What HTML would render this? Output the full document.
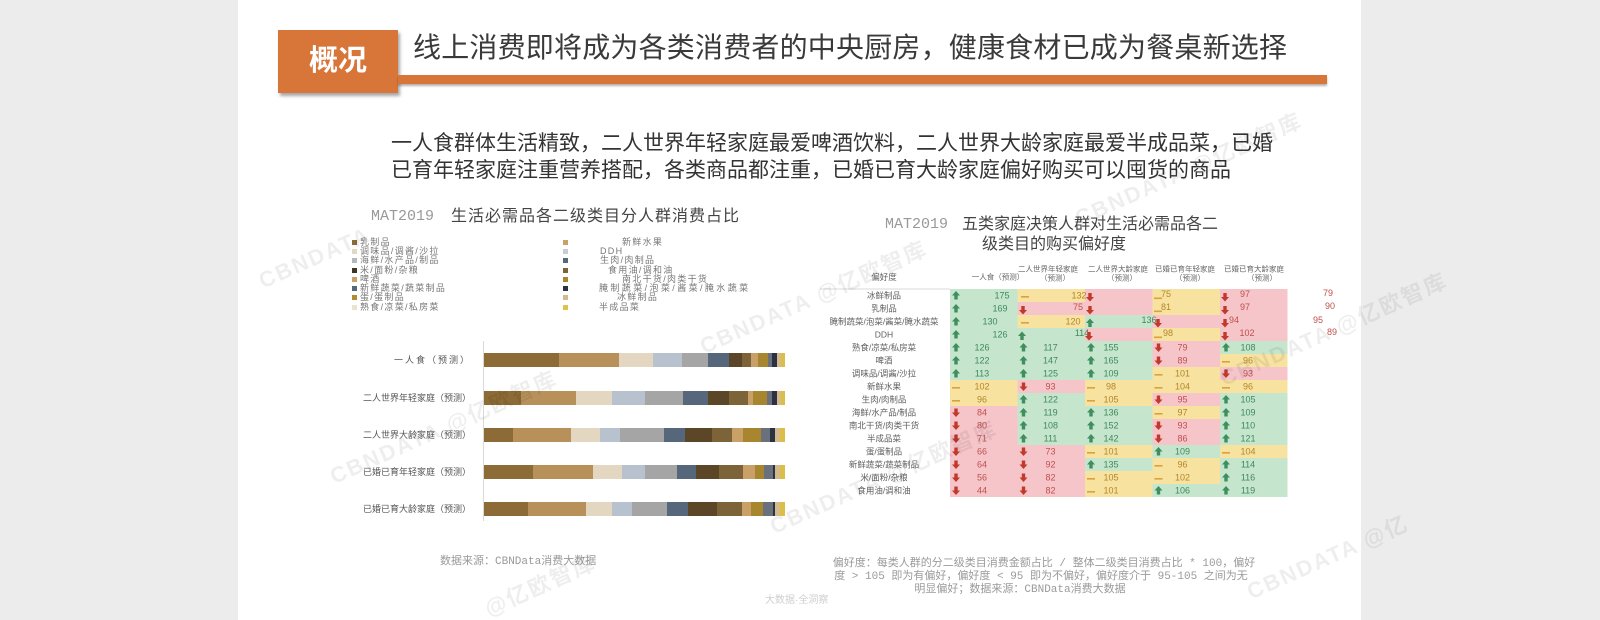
<!DOCTYPE html>
<html><head><meta charset="utf-8">
<style>
*{margin:0;padding:0;box-sizing:border-box}
html,body{width:1600px;height:620px;overflow:hidden;background:#ececec}
body{position:relative;font-family:"Liberation Sans","Noto Sans CJK SC",sans-serif;color:#333}
.slide{position:absolute;left:238px;top:0;width:1123px;height:620px;background:#fff}
.a{position:absolute;white-space:nowrap}
.mono{font-family:"Liberation Mono","Noto Sans CJK SC",monospace}
.bar{position:absolute;left:484px;width:301px;height:14px;display:flex}
.bar i{display:block;height:100%}
.c0{background:#8d6b36}.c1{background:#b8915a}.c2{background:#e4d7c2}.c3{background:#b8c1ce}
.c4{background:#a5a5a5}.c5{background:#56667b}.c6{background:#5b4627}.c7{background:#7d6338}
.c8{background:#c9a067}.c9{background:#a8852f}.c10{background:#6a707c}.c11{background:#2b3342}
.c12{background:#d4b98c}.c13{background:#dbbd4a}
.lg{position:absolute;font-size:9px;line-height:10px;height:10px;color:#777;white-space:nowrap;letter-spacing:1.3px}
.lg b{position:absolute;width:5px;height:5px;top:3px}
.bl{position:absolute;right:1129px;font-size:9px;line-height:14px;color:#555;white-space:nowrap}
.wmbox{position:absolute;left:0;top:0;width:1600px;height:620px;overflow:hidden}
.wm{position:absolute;white-space:nowrap;color:rgba(0,0,0,0.065);font-weight:bold;font-size:22px;transform:rotate(-24deg);transform-origin:center;letter-spacing:2px}
.fn{position:absolute;font-size:11px;line-height:13px;color:#9a9a9a;white-space:nowrap}
</style></head>
<body>
<div class="slide"></div>

<!-- header -->
<div class="a" style="left:278px;top:30px;width:120px;height:63px;background:#d8763a;box-shadow:2px 3px 3px rgba(0,0,0,0.35);color:#fff;font-weight:bold;font-size:29px;line-height:63px;text-align:center">概况</div>
<div class="a" style="left:413px;top:33px;font-size:28px;line-height:30px;color:#3a3a3a;letter-spacing:0.2px">线上消费即将成为各类消费者的中央厨房，健康食材已成为餐桌新选择</div>
<div class="a" style="left:398px;top:75px;width:929px;height:9px;background:#d8763a;box-shadow:0 2px 2px rgba(0,0,0,0.3)"></div>

<div class="a" style="left:391px;top:130px;font-size:21px;line-height:27px;color:#333">一人食群体生活精致，二人世界年轻家庭最爱啤酒饮料，二人世界大龄家庭最爱半成品菜，已婚<br>已育年轻家庭注重营养搭配，各类商品都注重，已婚已育大龄家庭偏好购买可以囤货的商品</div>

<!-- left chart title -->
<div class="a mono" style="left:371px;top:208px;font-size:15px;line-height:18px;color:#999">MAT2019</div>
<div class="a" style="left:451px;top:208px;font-size:16px;line-height:18px;color:#444;letter-spacing:1px">生活必需品各二级类目分人群消费占比</div>

<!-- legend left -->
<div class="lg" style="left:360px;top:237px"><b style="left:-8px;background:#8d6b36"></b>乳制品</div>
<div class="lg" style="left:360px;top:246px"><b style="left:-8px;background:#e4d7c2"></b>调味品/调酱/沙拉</div>
<div class="lg" style="left:360px;top:255px"><b style="left:-8px;background:#b3b7be"></b>海鲜/水产品/制品</div>
<div class="lg" style="left:360px;top:264.5px"><b style="left:-8px;background:#3f3524"></b>米/面粉/杂粮</div>
<div class="lg" style="left:360px;top:273.5px"><b style="left:-8px;background:#c9a067"></b>啤酒</div>
<div class="lg" style="left:360px;top:283px"><b style="left:-8px;background:#56667b"></b>新鲜蔬菜/蔬菜制品</div>
<div class="lg" style="left:360px;top:292px"><b style="left:-8px;background:#b08c33"></b>蛋/蛋制品</div>
<div class="lg" style="left:360px;top:301.5px"><b style="left:-8px;background:#ebe2d0"></b>熟食/凉菜/私房菜</div>
<!-- legend right -->
<div class="a" style="left:563px;top:240px;width:5px;height:5px;background:#c9a067"></div>
<div class="a" style="left:563px;top:249px;width:5px;height:5px;background:#c8ccd3"></div>
<div class="a" style="left:563px;top:258px;width:5px;height:5px;background:#56667b"></div>
<div class="a" style="left:563px;top:267.5px;width:5px;height:5px;background:#7d6338"></div>
<div class="a" style="left:563px;top:276.5px;width:5px;height:5px;background:#a8852f"></div>
<div class="a" style="left:563px;top:286px;width:5px;height:5px;background:#2b3342"></div>
<div class="a" style="left:563px;top:295px;width:5px;height:5px;background:#d4b98c"></div>
<div class="a" style="left:563px;top:304.5px;width:5px;height:5px;background:#dfc24a"></div>
<div class="lg" style="left:622px;top:237px">新鲜水果</div>
<div class="lg" style="left:600px;top:246px">DDH</div>
<div class="lg" style="left:600px;top:255px">生肉/肉制品</div>
<div class="lg" style="left:608px;top:264.5px">食用油/调和油</div>
<div class="lg" style="left:622px;top:273.5px">南北干货/肉类干货</div>
<div class="lg" style="left:599px;top:283px;letter-spacing:2.4px">腌制蔬菜/泡菜/酱菜/腌水蔬菜</div>
<div class="lg" style="left:617px;top:292px">冰鲜制品</div>
<div class="lg" style="left:599px;top:301.5px">半成品菜</div>

<!-- axis -->
<div class="a" style="left:483px;top:341px;width:1px;height:180px;background:#d9d9d9"></div>

<!-- bar labels -->
<div class="bl" style="top:353px;letter-spacing:2px">一人食（预测）</div>
<div class="bl" style="top:390.5px">二人世界年轻家庭（预测）</div>
<div class="bl" style="top:428px">二人世界大龄家庭（预测）</div>
<div class="bl" style="top:465px">已婚已育年轻家庭（预测）</div>
<div class="bl" style="top:502px">已婚已育大龄家庭（预测）</div>

<!-- bars -->
<div class="bar" style="top:353px"><i class="c0" style="flex:225 1 0"></i><i class="c1" style="flex:181 1 0"></i><i class="c2" style="flex:100 1 0"></i><i class="c3" style="flex:87 1 0"></i><i class="c4" style="flex:80 1 0"></i><i class="c5" style="flex:63 1 0"></i><i class="c6" style="flex:37 1 0"></i><i class="c7" style="flex:27 1 0"></i><i class="c8" style="flex:23 1 0"></i><i class="c9" style="flex:28 1 0"></i><i class="c10" style="flex:14 1 0"></i><i class="c11" style="flex:13 1 0"></i><i class="c12" style="flex:12 1 0"></i><i class="c13" style="flex:13 1 0"></i></div>
<div class="bar" style="top:390.5px"><i class="c0" style="flex:111 1 0"></i><i class="c1" style="flex:165 1 0"></i><i class="c2" style="flex:107 1 0"></i><i class="c3" style="flex:100 1 0"></i><i class="c4" style="flex:115 1 0"></i><i class="c5" style="flex:75 1 0"></i><i class="c6" style="flex:63 1 0"></i><i class="c7" style="flex:57 1 0"></i><i class="c8" style="flex:15 1 0"></i><i class="c9" style="flex:40 1 0"></i><i class="c10" style="flex:17 1 0"></i><i class="c11" style="flex:13 1 0"></i><i class="c12" style="flex:12 1 0"></i><i class="c13" style="flex:13 1 0"></i></div>
<div class="bar" style="top:428px"><i class="c0" style="flex:88 1 0"></i><i class="c1" style="flex:173 1 0"></i><i class="c2" style="flex:87 1 0"></i><i class="c3" style="flex:60 1 0"></i><i class="c4" style="flex:132 1 0"></i><i class="c5" style="flex:63 1 0"></i><i class="c6" style="flex:80 1 0"></i><i class="c7" style="flex:60 1 0"></i><i class="c8" style="flex:35 1 0"></i><i class="c9" style="flex:52 1 0"></i><i class="c10" style="flex:28 1 0"></i><i class="c11" style="flex:15 1 0"></i><i class="c12" style="flex:15 1 0"></i><i class="c13" style="flex:15 1 0"></i></div>
<div class="bar" style="top:465px"><i class="c0" style="flex:146 1 0"></i><i class="c1" style="flex:182 1 0"></i><i class="c2" style="flex:85 1 0"></i><i class="c3" style="flex:70 1 0"></i><i class="c4" style="flex:95 1 0"></i><i class="c5" style="flex:58 1 0"></i><i class="c6" style="flex:70 1 0"></i><i class="c7" style="flex:72 1 0"></i><i class="c8" style="flex:35 1 0"></i><i class="c9" style="flex:27 1 0"></i><i class="c10" style="flex:28 1 0"></i><i class="c11" style="flex:5 1 0"></i><i class="c12" style="flex:15 1 0"></i><i class="c13" style="flex:15 1 0"></i></div>
<div class="bar" style="top:502px"><i class="c0" style="flex:131 1 0"></i><i class="c1" style="flex:174 1 0"></i><i class="c2" style="flex:78 1 0"></i><i class="c3" style="flex:60 1 0"></i><i class="c4" style="flex:105 1 0"></i><i class="c5" style="flex:65 1 0"></i><i class="c6" style="flex:87 1 0"></i><i class="c7" style="flex:73 1 0"></i><i class="c8" style="flex:27 1 0"></i><i class="c9" style="flex:38 1 0"></i><i class="c10" style="flex:28 1 0"></i><i class="c11" style="flex:7 1 0"></i><i class="c12" style="flex:15 1 0"></i><i class="c13" style="flex:15 1 0"></i></div>

<!-- right chart title -->
<div class="a mono" style="left:885px;top:216px;font-size:15px;line-height:18px;color:#999">MAT2019</div>
<div class="a" style="left:962px;top:216px;font-size:16px;line-height:18px;color:#444">五类家庭决策人群对生活必需品各二</div>
<div class="a" style="left:982px;top:236px;font-size:16px;line-height:18px;color:#444">级类目的购买偏好度</div>

<!-- heatmap -->
<svg class="a" style="left:0;top:0" width="1600" height="620" viewBox="0 0 1600 620" xmlns="http://www.w3.org/2000/svg">
<style>
.g{fill:#c6e5cd}.y{fill:#f7e2a0}.p{fill:#f5c5ca}
text{font-family:"Liberation Sans","Noto Sans CJK SC",sans-serif}
.v{font-size:9px;text-anchor:middle;dominant-baseline:central}
.tg{fill:#3d8a5b}.tp{fill:#c0504d}.ty{fill:#b3862b}
.rl{font-size:8.5px;fill:#606060;text-anchor:middle;dominant-baseline:central}
.hd{font-size:7.5px;fill:#666;text-anchor:middle;dominant-baseline:central}
</style>
<defs>
<path id="u" d="M0,-4.5 L4,0 L1.7,0 L1.7,4 L-1.7,4 L-1.7,0 L-4,0Z" fill="#3e8e5e"/>
<path id="d" d="M0,4.5 L4,0 L1.7,0 L1.7,-4 L-1.7,-4 L-1.7,0 L-4,0Z" fill="#c0392b"/>
<rect id="s" x="-4" y="0.5" width="8" height="1.6" fill="#d9a23e"/>
</defs>
<line x1="820" y1="289" x2="950" y2="289" stroke="#d5d8de" stroke-width="1"/>
<text class="rl" x="884" y="277">偏好度</text>
<text class="hd" x="998" y="277">一人食（预测）</text>
<text class="hd" x="1048" y="269">二人世界年轻家庭</text><text class="hd" x="1055" y="278">（预测）</text>
<text class="hd" x="1118" y="269">二人世界大龄家庭</text><text class="hd" x="1122" y="278">（预测）</text>
<text class="hd" x="1185" y="269">已婚已育年轻家庭</text><text class="hd" x="1190" y="278">（预测）</text>
<text class="hd" x="1254" y="269">已婚已育大龄家庭</text><text class="hd" x="1262" y="278">（预测）</text>

<g shape-rendering="crispEdges">
<rect class="g" x="950" y="289" width="67.5" height="13"/><rect class="y" x="1017.5" y="289" width="67.5" height="13"/><rect class="p" x="1085" y="289" width="67.5" height="13"/><rect class="y" x="1152.5" y="289" width="67.5" height="13"/><rect class="p" x="1220" y="289" width="67.5" height="13"/>
<rect class="g" x="950" y="302" width="67.5" height="13"/><rect class="p" x="1017.5" y="302" width="67.5" height="13"/><rect class="p" x="1085" y="302" width="67.5" height="13"/><rect class="y" x="1152.5" y="302" width="67.5" height="13"/><rect class="p" x="1220" y="302" width="67.5" height="13"/>
<rect class="g" x="950" y="315" width="67.5" height="13"/><rect class="y" x="1017.5" y="315" width="67.5" height="13"/><rect class="g" x="1085" y="315" width="67.5" height="13"/><rect class="p" x="1152.5" y="315" width="67.5" height="13"/><rect class="p" x="1220" y="315" width="67.5" height="13"/>
<rect class="g" x="950" y="328" width="67.5" height="13"/><rect class="g" x="1017.5" y="328" width="67.5" height="13"/><rect class="p" x="1085" y="328" width="67.5" height="13"/><rect class="y" x="1152.5" y="328" width="67.5" height="13"/><rect class="p" x="1220" y="328" width="67.5" height="13"/>
<rect class="g" x="950" y="341" width="67.5" height="13"/><rect class="g" x="1017.5" y="341" width="67.5" height="13"/><rect class="g" x="1085" y="341" width="67.5" height="13"/><rect class="p" x="1152.5" y="341" width="67.5" height="13"/><rect class="g" x="1220" y="341" width="67.5" height="13"/>
<rect class="g" x="950" y="354" width="67.5" height="13"/><rect class="g" x="1017.5" y="354" width="67.5" height="13"/><rect class="g" x="1085" y="354" width="67.5" height="13"/><rect class="p" x="1152.5" y="354" width="67.5" height="13"/><rect class="y" x="1220" y="354" width="67.5" height="13"/>
<rect class="g" x="950" y="367" width="67.5" height="13"/><rect class="g" x="1017.5" y="367" width="67.5" height="13"/><rect class="g" x="1085" y="367" width="67.5" height="13"/><rect class="y" x="1152.5" y="367" width="67.5" height="13"/><rect class="p" x="1220" y="367" width="67.5" height="13"/>
<rect class="y" x="950" y="380" width="67.5" height="13"/><rect class="p" x="1017.5" y="380" width="67.5" height="13"/><rect class="y" x="1085" y="380" width="67.5" height="13"/><rect class="y" x="1152.5" y="380" width="67.5" height="13"/><rect class="y" x="1220" y="380" width="67.5" height="13"/>
<rect class="y" x="950" y="393" width="67.5" height="13"/><rect class="g" x="1017.5" y="393" width="67.5" height="13"/><rect class="y" x="1085" y="393" width="67.5" height="13"/><rect class="p" x="1152.5" y="393" width="67.5" height="13"/><rect class="g" x="1220" y="393" width="67.5" height="13"/>
<rect class="p" x="950" y="406" width="67.5" height="13"/><rect class="g" x="1017.5" y="406" width="67.5" height="13"/><rect class="g" x="1085" y="406" width="67.5" height="13"/><rect class="y" x="1152.5" y="406" width="67.5" height="13"/><rect class="g" x="1220" y="406" width="67.5" height="13"/>
<rect class="p" x="950" y="419" width="67.5" height="13"/><rect class="g" x="1017.5" y="419" width="67.5" height="13"/><rect class="g" x="1085" y="419" width="67.5" height="13"/><rect class="p" x="1152.5" y="419" width="67.5" height="13"/><rect class="g" x="1220" y="419" width="67.5" height="13"/>
<rect class="p" x="950" y="432" width="67.5" height="13"/><rect class="g" x="1017.5" y="432" width="67.5" height="13"/><rect class="g" x="1085" y="432" width="67.5" height="13"/><rect class="p" x="1152.5" y="432" width="67.5" height="13"/><rect class="g" x="1220" y="432" width="67.5" height="13"/>
<rect class="p" x="950" y="445" width="67.5" height="13"/><rect class="p" x="1017.5" y="445" width="67.5" height="13"/><rect class="y" x="1085" y="445" width="67.5" height="13"/><rect class="g" x="1152.5" y="445" width="67.5" height="13"/><rect class="y" x="1220" y="445" width="67.5" height="13"/>
<rect class="p" x="950" y="458" width="67.5" height="13"/><rect class="p" x="1017.5" y="458" width="67.5" height="13"/><rect class="g" x="1085" y="458" width="67.5" height="13"/><rect class="y" x="1152.5" y="458" width="67.5" height="13"/><rect class="g" x="1220" y="458" width="67.5" height="13"/>
<rect class="p" x="950" y="471" width="67.5" height="13"/><rect class="p" x="1017.5" y="471" width="67.5" height="13"/><rect class="y" x="1085" y="471" width="67.5" height="13"/><rect class="y" x="1152.5" y="471" width="67.5" height="13"/><rect class="g" x="1220" y="471" width="67.5" height="13"/>
<rect class="p" x="950" y="484" width="67.5" height="13"/><rect class="p" x="1017.5" y="484" width="67.5" height="13"/><rect class="y" x="1085" y="484" width="67.5" height="13"/><rect class="g" x="1152.5" y="484" width="67.5" height="13"/><rect class="g" x="1220" y="484" width="67.5" height="13"/>
</g>

<!-- row labels -->
<text class="rl" x="884" y="295.5">冰鲜制品</text>
<text class="rl" x="884" y="308.5">乳制品</text>
<text class="rl" x="884" y="321.5">腌制蔬菜/泡菜/酱菜/腌水蔬菜</text>
<text class="rl" x="884" y="334.5">DDH</text>
<text class="rl" x="884" y="347.5">熟食/凉菜/私房菜</text>
<text class="rl" x="884" y="360.5">啤酒</text>
<text class="rl" x="884" y="373.5">调味品/调酱/沙拉</text>
<text class="rl" x="884" y="386.5">新鲜水果</text>
<text class="rl" x="884" y="399.5">生肉/肉制品</text>
<text class="rl" x="884" y="412.5">海鲜/水产品/制品</text>
<text class="rl" x="884" y="425.5">南北干货/肉类干货</text>
<text class="rl" x="884" y="438.5">半成品菜</text>
<text class="rl" x="884" y="451.5">蛋/蛋制品</text>
<text class="rl" x="884" y="464.5">新鲜蔬菜/蔬菜制品</text>
<text class="rl" x="884" y="477.5">米/面粉/杂粮</text>
<text class="rl" x="884" y="490.5">食用油/调和油</text>

<!-- top 4 rows (misaligned) -->
<use href="#u" x="956" y="295.5"/><text class="v tg" x="1002" y="295.5">175</text>
<use href="#s" x="1025" y="295.5"/><text class="v ty" x="1079" y="295.5">132</text>
<use href="#d" x="1090" y="297"/>
<use href="#s" x="1158" y="297"/><text class="v ty" x="1166" y="294">75</text>
<use href="#d" x="1225" y="297"/><text class="v tp" x="1245" y="294">97</text>
<text class="v tp" x="1328" y="293">79</text>

<use href="#u" x="956" y="308.5"/><text class="v tg" x="1000" y="308.5">169</text>
<use href="#d" x="1023" y="310"/><text class="v tp" x="1078" y="307">75</text>
<use href="#d" x="1090" y="310"/>
<use href="#s" x="1158" y="310"/><text class="v ty" x="1166" y="307">81</text>
<use href="#d" x="1225" y="310"/><text class="v tp" x="1245" y="307">97</text>
<text class="v tp" x="1330" y="306">90</text>

<use href="#u" x="956" y="321.5"/><text class="v tg" x="990" y="321.5">130</text>
<use href="#s" x="1025" y="321.5"/><text class="v ty" x="1073" y="321.5">120</text>
<use href="#u" x="1090" y="323"/><text class="v tg" x="1149" y="320">136</text>
<use href="#d" x="1158" y="323"/>
<use href="#d" x="1225" y="323"/><text class="v tp" x="1234" y="320">94</text>
<text class="v tp" x="1318" y="320">95</text>

<use href="#u" x="956" y="334.5"/><text class="v tg" x="1000" y="334.5">126</text>
<use href="#u" x="1022" y="336"/><text class="v tg" x="1082" y="333">114</text>
<use href="#d" x="1089" y="336"/>
<use href="#s" x="1158" y="336"/><text class="v ty" x="1168" y="333">98</text>
<use href="#d" x="1225" y="336"/><text class="v tp" x="1247" y="333">102</text>
<text class="v tp" x="1332" y="332">89</text>

<!-- rows 5..16 -->
<use href="#u" x="956" y="347.5"/><text class="v tg" x="982" y="347.5">126</text>
<use href="#u" x="1023.5" y="347.5"/><text class="v tg" x="1050.5" y="347.5">117</text>
<use href="#u" x="1091" y="347.5"/><text class="v tg" x="1111" y="347.5">155</text>
<use href="#d" x="1158.5" y="347.5"/><text class="v tp" x="1182.5" y="347.5">79</text>
<use href="#u" x="1226" y="347.5"/><text class="v tg" x="1248" y="347.5">108</text>

<use href="#u" x="956" y="360.5"/><text class="v tg" x="982" y="360.5">122</text>
<use href="#u" x="1023.5" y="360.5"/><text class="v tg" x="1050.5" y="360.5">147</text>
<use href="#u" x="1091" y="360.5"/><text class="v tg" x="1111" y="360.5">165</text>
<use href="#d" x="1158.5" y="360.5"/><text class="v tp" x="1182.5" y="360.5">89</text>
<use href="#s" x="1226" y="360.5"/><text class="v ty" x="1248" y="360.5">96</text>

<use href="#u" x="956" y="373.5"/><text class="v tg" x="982" y="373.5">113</text>
<use href="#u" x="1023.5" y="373.5"/><text class="v tg" x="1050.5" y="373.5">125</text>
<use href="#u" x="1091" y="373.5"/><text class="v tg" x="1111" y="373.5">109</text>
<use href="#s" x="1158.5" y="373.5"/><text class="v ty" x="1182.5" y="373.5">101</text>
<use href="#d" x="1226" y="373.5"/><text class="v tp" x="1248" y="373.5">93</text>

<use href="#s" x="956" y="386.5"/><text class="v ty" x="982" y="386.5">102</text>
<use href="#d" x="1023.5" y="386.5"/><text class="v tp" x="1050.5" y="386.5">93</text>
<use href="#s" x="1091" y="386.5"/><text class="v ty" x="1111" y="386.5">98</text>
<use href="#s" x="1158.5" y="386.5"/><text class="v ty" x="1182.5" y="386.5">104</text>
<use href="#s" x="1226" y="386.5"/><text class="v ty" x="1248" y="386.5">96</text>

<use href="#s" x="956" y="399.5"/><text class="v ty" x="982" y="399.5">96</text>
<use href="#u" x="1023.5" y="399.5"/><text class="v tg" x="1050.5" y="399.5">122</text>
<use href="#s" x="1091" y="399.5"/><text class="v ty" x="1111" y="399.5">105</text>
<use href="#d" x="1158.5" y="399.5"/><text class="v tp" x="1182.5" y="399.5">95</text>
<use href="#u" x="1226" y="399.5"/><text class="v tg" x="1248" y="399.5">105</text>

<use href="#d" x="956" y="412.5"/><text class="v tp" x="982" y="412.5">84</text>
<use href="#u" x="1023.5" y="412.5"/><text class="v tg" x="1050.5" y="412.5">119</text>
<use href="#u" x="1091" y="412.5"/><text class="v tg" x="1111" y="412.5">136</text>
<use href="#s" x="1158.5" y="412.5"/><text class="v ty" x="1182.5" y="412.5">97</text>
<use href="#u" x="1226" y="412.5"/><text class="v tg" x="1248" y="412.5">109</text>

<use href="#d" x="956" y="425.5"/><text class="v tp" x="982" y="425.5">80</text>
<use href="#u" x="1023.5" y="425.5"/><text class="v tg" x="1050.5" y="425.5">108</text>
<use href="#u" x="1091" y="425.5"/><text class="v tg" x="1111" y="425.5">152</text>
<use href="#d" x="1158.5" y="425.5"/><text class="v tp" x="1182.5" y="425.5">93</text>
<use href="#u" x="1226" y="425.5"/><text class="v tg" x="1248" y="425.5">110</text>

<use href="#d" x="956" y="438.5"/><text class="v tp" x="982" y="438.5">71</text>
<use href="#u" x="1023.5" y="438.5"/><text class="v tg" x="1050.5" y="438.5">111</text>
<use href="#u" x="1091" y="438.5"/><text class="v tg" x="1111" y="438.5">142</text>
<use href="#d" x="1158.5" y="438.5"/><text class="v tp" x="1182.5" y="438.5">86</text>
<use href="#u" x="1226" y="438.5"/><text class="v tg" x="1248" y="438.5">121</text>

<use href="#d" x="956" y="451.5"/><text class="v tp" x="982" y="451.5">66</text>
<use href="#d" x="1023.5" y="451.5"/><text class="v tp" x="1050.5" y="451.5">73</text>
<use href="#s" x="1091" y="451.5"/><text class="v ty" x="1111" y="451.5">101</text>
<use href="#u" x="1158.5" y="451.5"/><text class="v tg" x="1182.5" y="451.5">109</text>
<use href="#s" x="1226" y="451.5"/><text class="v ty" x="1248" y="451.5">104</text>

<use href="#d" x="956" y="464.5"/><text class="v tp" x="982" y="464.5">64</text>
<use href="#d" x="1023.5" y="464.5"/><text class="v tp" x="1050.5" y="464.5">92</text>
<use href="#u" x="1091" y="464.5"/><text class="v tg" x="1111" y="464.5">135</text>
<use href="#s" x="1158.5" y="464.5"/><text class="v ty" x="1182.5" y="464.5">96</text>
<use href="#u" x="1226" y="464.5"/><text class="v tg" x="1248" y="464.5">114</text>

<use href="#d" x="956" y="477.5"/><text class="v tp" x="982" y="477.5">56</text>
<use href="#d" x="1023.5" y="477.5"/><text class="v tp" x="1050.5" y="477.5">82</text>
<use href="#s" x="1091" y="477.5"/><text class="v ty" x="1111" y="477.5">105</text>
<use href="#s" x="1158.5" y="477.5"/><text class="v ty" x="1182.5" y="477.5">102</text>
<use href="#u" x="1226" y="477.5"/><text class="v tg" x="1248" y="477.5">116</text>

<use href="#d" x="956" y="490.5"/><text class="v tp" x="982" y="490.5">44</text>
<use href="#d" x="1023.5" y="490.5"/><text class="v tp" x="1050.5" y="490.5">82</text>
<use href="#s" x="1091" y="490.5"/><text class="v ty" x="1111" y="490.5">101</text>
<use href="#u" x="1158.5" y="490.5"/><text class="v tg" x="1182.5" y="490.5">106</text>
<use href="#u" x="1226" y="490.5"/><text class="v tg" x="1248" y="490.5">119</text>
</svg>

<!-- footnotes -->
<div class="fn mono" style="left:440px;top:556px">数据来源：CBNData消费大数据</div>
<div class="fn mono" style="left:744px;top:558px;width:600px;text-align:center">偏好度：每类人群的分二级类目消费金额占比 / 整体二级类目消费占比 * 100，偏好</div>
<div class="fn mono" style="left:741px;top:571px;width:600px;text-align:center">度 &gt; 105 即为有偏好，偏好度 &lt; 95 即为不偏好，偏好度介于 95-105 之间为无</div>
<div class="fn mono" style="left:720px;top:584px;width:600px;text-align:center">明显偏好；数据来源：CBNData消费大数据</div>
<div class="fn" style="left:765px;top:594px;font-size:10px;color:#cfcfcf">大数据·全洞察</div>

<!-- watermarks -->
<div class="wmbox">
<div class="wm" style="left:255px;top:245px">CBNDATA</div>
<div class="wm" style="left:690px;top:280px">CBNDATA @亿欧智库</div>
<div class="wm" style="left:320px;top:410px">CBNDATA @亿欧智库</div>
<div class="wm" style="left:760px;top:460px">CBNDATA @亿欧智库</div>
<div class="wm" style="left:1065px;top:152px">CBNDATA @亿欧智库</div>
<div class="wm" style="left:1210px;top:312px">CBNDATA @亿欧智库</div>
<div class="wm" style="left:1240px;top:540px">CBNDATA @亿</div>
<div class="wm" style="left:480px;top:568px">@亿欧智库</div>
</div>
</body></html>
